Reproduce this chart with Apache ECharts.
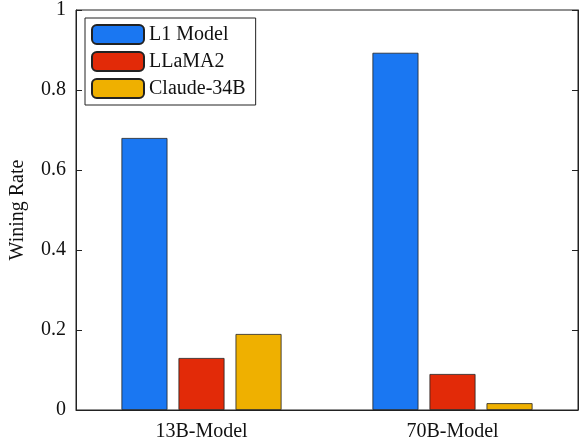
<!DOCTYPE html>
<html>
<head>
<meta charset="utf-8">
<script src="https://cdn.jsdelivr.net/npm/echarts@6/dist/echarts.min.js"></script>
<style>html,body{margin:0;padding:0;background:#fff}#main{width:581px;height:445px}</style>
</head>
<body>
<div id="main"></div>
<script>
var categories = ['13B-Model', '70B-Model'];
var seriesNames = ['L1 Model', 'LLaMA2', 'Claude-34B'];
var l1Model = [0.68, 0.893];
var llama2 = [0.13, 0.09];
var claude34b = [0.19, 0.017];
var colors = ['#1a77f2', '#e22a08', '#efb000'];

var chart = echarts.init(document.getElementById('main'));
var font = 'Liberation Serif';
var values = [l1Model, llama2, claude34b];

var series = seriesNames.map(function (name, i) {
    return {
        name: name,
        type: 'bar',
        data: values[i],
        barWidth: 46,
        barGap: '24%',
        itemStyle: { color: colors[i], borderColor: '#222', borderWidth: 0.8 }
    };
});

chart.setOption({
    animation: false,
    textStyle: { fontFamily: font },
    grid: { left: 75, right: 3, top: 5, bottom: 35, show: true, borderColor: '#222', borderWidth: 1 },
    legend: {
        data: seriesNames,
        orient: 'vertical',
        left: 85, top: 18,
        padding: [6, 10, 6, 6],
        itemGap: 6,
        itemWidth: 52, itemHeight: 19,
        borderColor: '#222', borderWidth: 1,
        backgroundColor: '#fff',
        textStyle: { fontFamily: font, fontSize: 20, color: '#111' }
    },
    xAxis: {
        type: 'category',
        data: categories,
        axisLine: { lineStyle: { color: '#222' } },
        axisTick: { show: false },
        axisLabel: { fontFamily: font, fontSize: 20, color: '#111', margin: 12 }
    },
    yAxis: [{
        type: 'value',
        min: 0, max: 1, interval: 0.2,
        name: 'Wining Rate',
        nameLocation: 'middle',
        nameGap: 48,
        nameTextStyle: { fontFamily: font, fontSize: 20, color: '#111' },
        axisLine: { show: true, lineStyle: { color: '#222' } },
        axisTick: { show: true, inside: true, length: 6, lineStyle: { color: '#222' } },
        axisLabel: { fontFamily: font, fontSize: 20, color: '#111', margin: 10,
            formatter: function (v) { return v === 0 || v === 1 ? String(v) : v.toFixed(1); } },
        splitLine: { show: false }
    }, {
        type: 'value',
        min: 0, max: 1, interval: 0.2,
        position: 'right',
        axisLine: { show: true, lineStyle: { color: '#222' } },
        axisTick: { show: true, inside: true, length: 6, lineStyle: { color: '#222' } },
        axisLabel: { show: false },
        splitLine: { show: false }
    }],
    series: series
});
</script>
</body>
</html>
